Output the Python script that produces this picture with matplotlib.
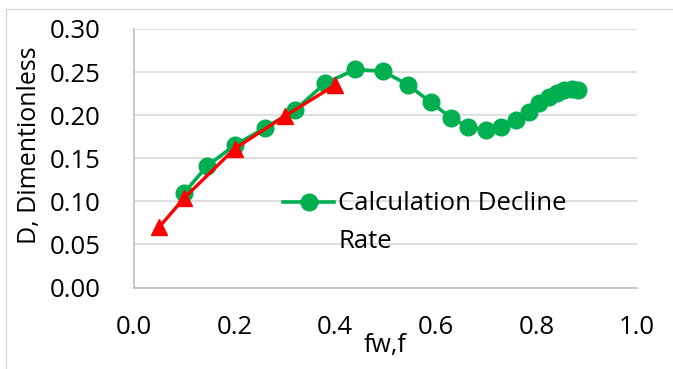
import matplotlib.pyplot as plt
from matplotlib.lines import Line2D

plt.rcParams['font.family'] = ['Open Sans', 'DejaVu Sans']

# calculated decline rate (green)
fw_calc = [0.10, 0.145, 0.20, 0.26, 0.32, 0.38, 0.44, 0.495, 0.545, 0.59, 0.63,
           0.665, 0.70, 0.73, 0.76, 0.785, 0.805, 0.825, 0.84, 0.855, 0.87, 0.883]
d_calc = [0.110, 0.141, 0.165, 0.185, 0.206, 0.237, 0.253, 0.251, 0.235, 0.215, 0.197,
          0.186, 0.183, 0.186, 0.194, 0.204, 0.214, 0.221, 0.226, 0.229, 0.230, 0.229]

# second series (red triangles)
fw_red = [0.05, 0.10, 0.20, 0.30, 0.40]
d_red = [0.070, 0.104, 0.161, 0.199, 0.235]

W, H = 673, 369
fig = plt.figure(figsize=(W / 100, H / 100), dpi=100)
ax = fig.add_axes([134 / W, 1 - 287.5 / H, (637 - 134) / W, (287.5 - 29) / H])

ax.plot(fw_calc, d_calc, color='#00B050', lw=2.6, marker='o', ms=12,
        label='Calculation Decline', zorder=3, clip_on=False)
ax.plot(fw_red, d_red, color='#FF0000', lw=2.4, marker='^', ms=11,
        zorder=4, clip_on=False)

ax.set_xlim(0, 1.0)
ax.set_ylim(0, 0.30)
ax.set_xticks([0.0, 0.2, 0.4, 0.6, 0.8, 1.0])
ax.set_yticks([0.0, 0.05, 0.10, 0.15, 0.20, 0.25, 0.30])
ax.set_xticklabels(['0.0', '0.2', '0.4', '0.6', '0.8', '1.0'])
ax.set_yticklabels(['0.00', '0.05', '0.10', '0.15', '0.20', '0.25', '0.30'])
ax.tick_params(length=0, labelsize=18.5, colors='black')
ax.tick_params(axis='y', pad=24)
ax.tick_params(axis='x', pad=20)
ax.grid(axis='y', color='#D9D9D9', lw=1.2)
ax.set_axisbelow(True)
for s in ['top', 'right']:
    ax.spines[s].set_visible(False)
for s in ['left', 'bottom']:
    ax.spines[s].set_color('#BFBFBF')
    ax.spines[s].set_linewidth(1.2)

ax.set_xlabel('fw,f', fontsize=18, labelpad=-5)
fig.text(30 / W, 1 - 145 / H, 'D, Dimentionless', rotation=90, fontsize=18,
         ha='center', va='center')

leg = ax.legend(loc='center left', bbox_to_anchor=((283 - 134) / 503, 1 - (204 - 29) / 258.5),
                frameon=False, fontsize=18.5, handlelength=2.0, handletextpad=0.15,
                borderpad=0, borderaxespad=0)

fig.canvas.draw()
bb = leg.get_texts()[0].get_window_extent()
fig.text(bb.x0 / W, bb.y0 / H - 38 / H, 'Rate', fontsize=18.5, ha='left', va='bottom')

# outer chart border
fig.add_artist(Line2D([6 / W, 6 / W], [0, 1 - 9 / H], transform=fig.transFigure, color='#D9D9D9', lw=1))
fig.add_artist(Line2D([6 / W, 1], [1 - 9 / H, 1 - 9 / H], transform=fig.transFigure, color='#D9D9D9', lw=1))

fig.savefig('out.png', dpi=100)
